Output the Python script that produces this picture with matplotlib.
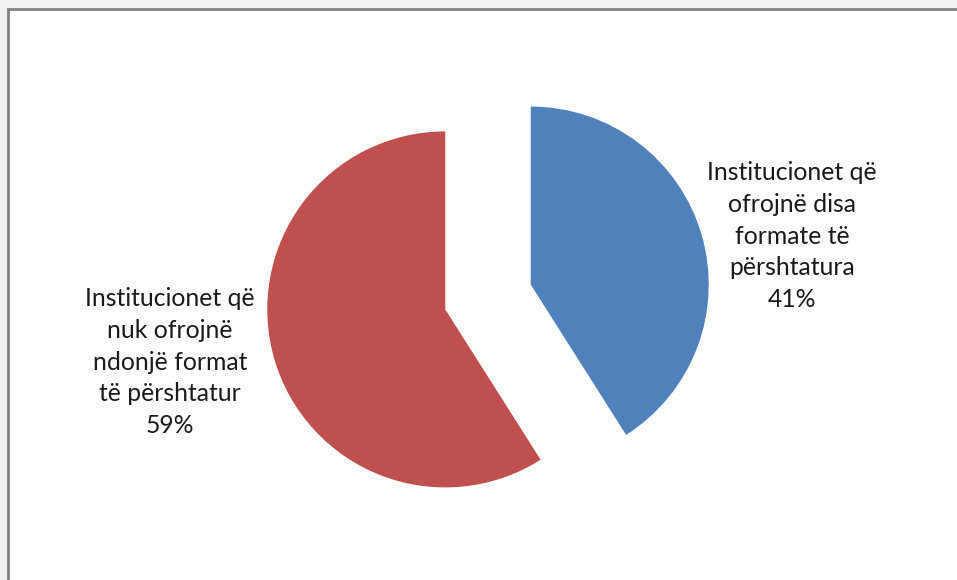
import matplotlib.pyplot as plt
from matplotlib.patches import Rectangle

labels = ["Institucionet që\nofrojnë disa\nformate të\npërshtatura\n41%",
          "Institucionet që\nnuk ofrojnë\nndonjë format\ntë përshtatur\n59%"]
shares = [41, 59]
colors = ['#4F81BD', '#C0504D']

W, H = 957, 580
fig = plt.figure(figsize=(W / 100, H / 100), dpi=100, facecolor='#f2f2f2')

# white chart area with grey frame (only top/left edges visible)
fig.patches.append(Rectangle((8 / W, -0.1), 1.2, 0.1 + (H - 9) / H, transform=fig.transFigure,
                             facecolor='white', edgecolor='#808080', linewidth=2, zorder=-5))

ax = fig.add_axes([0, 0, 1, 1])
ax.set_facecolor('none')
r = 178.0    # pie radius in pixels
cx, cy = 488, 297

ax.pie(shares, colors=colors, startangle=90, counterclock=False,
       explode=[0.25, 0.25], radius=1,
       wedgeprops=dict(linewidth=0))
ax.set_xlim(-cx / r, (W - cx) / r)
ax.set_ylim(-(H - cy) / r, cy / r)
ax.set_aspect('auto')
ax.axis('off')

font = ['Lato', 'DejaVu Sans']
ax.text((792 - cx) / r, (cy - 236) / r, labels[0], ha='center', va='center',
        fontsize=17.8, family=font, color='#1a1a1a', linespacing=1.47)
ax.text((170 - cx) / r, (cy - 362) / r, labels[1], ha='center', va='center',
        fontsize=17.8, family=font, color='#1a1a1a', linespacing=1.47)

fig.savefig('out.png', dpi=100, facecolor=fig.get_facecolor())
